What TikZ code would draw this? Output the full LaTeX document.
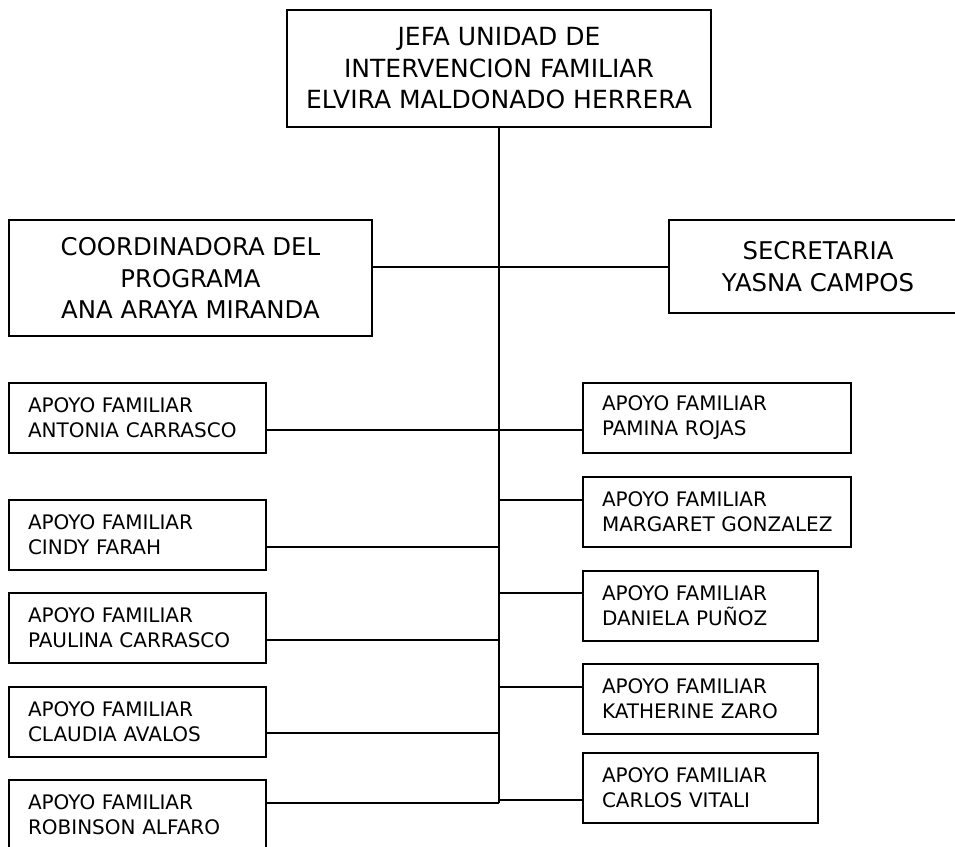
\documentclass[tikz,border=0pt]{standalone}
\usepackage{fontspec}
\setmainfont{DejaVu Sans}
\usepackage{tikz}

\begin{document}
\begin{tikzpicture}
        [x=1pt,y=-1pt,line width=1.5pt,every node/.style={draw,rectangle,line width=1.5pt}]
        \useasboundingbox (0,0) rectangle (955,846);
        \tikzset{JefeStyle/.style =   {align          = center,
                                  font           = \fontsize{#1}{31.5}\selectfont},
                 ApoyoStyle/.style =  {align          = left,
                                  inner xsep     = 19pt,
                                  text width     = #1,
                                  minimum height = 70pt,
                                  font           = \fontsize{20}{25}\selectfont}}
        \node[JefeStyle=25,minimum width=424pt,minimum height=117pt] (Jefa) at (499,68.5)
            {JEFA UNIDAD DE\\INTERVENCION FAMILIAR\\ELVIRA MALDONADO HERRERA};
        \node[JefeStyle=24.4,minimum width=363pt,minimum height=116pt] (Coordinadora) at (190.5,278)
            {COORDINADORA DEL\\PROGRAMA\\ANA ARAYA MIRANDA};
        \node[JefeStyle=24.4,minimum width=298pt,minimum height=93pt] (Secretaria) at (818,266.5)
            {SECRETARIA\\YASNA CAMPOS};
        % apoyo familiar, lado izquierdo
        \node[ApoyoStyle=219pt] (Antonia) at (137.5,418) {APOYO FAMILIAR\\ANTONIA CARRASCO};
        \node[ApoyoStyle=219pt] (Cindy) at (137.5,535) {APOYO FAMILIAR\\CINDY FARAH};
        \node[ApoyoStyle=219pt] (Paulina) at (137.5,628) {APOYO FAMILIAR\\PAULINA CARRASCO};
        \node[ApoyoStyle=219pt] (Claudia) at (137.5,722) {APOYO FAMILIAR\\CLAUDIA AVALOS};
        \node[ApoyoStyle=219pt] (Robinson) at (137.5,815) {APOYO FAMILIAR\\ROBINSON ALFARO};
        % apoyo familiar, lado derecho
        \node[ApoyoStyle=230pt] (Pamina) at (717,418) {APOYO FAMILIAR\\PAMINA ROJAS};
        \node[ApoyoStyle=230pt] (Margaret) at (717,512) {APOYO FAMILIAR\\\mbox{MARGARET GONZALEZ}};
        \node[ApoyoStyle=197pt] (Daniela) at (700.5,606) {APOYO FAMILIAR\\DANIELA PUÑOZ};
        \node[ApoyoStyle=197pt] (Katherine) at (700.5,699) {APOYO FAMILIAR\\KATHERINE ZARO};
        \node[ApoyoStyle=197pt] (Carlos) at (700.5,788) {APOYO FAMILIAR\\CARLOS VITALI};
        % puntos sobre la linea central
        \coordinate (t0) at (499,267);
        \coordinate (t1) at (499,430);
        \coordinate (t2) at (499,500);
        \coordinate (t3) at (499,547);
        \coordinate (t4) at (499,593);
        \coordinate (t5) at (499,640);
        \coordinate (t6) at (499,687);
        \coordinate (t7) at (499,733);
        \coordinate (t8) at (499,800);
        \coordinate (t9) at (499,803);
        \draw (Jefa.south) -- (t9);
        \foreach \from/\to/\at in {Coordinadora/Secretaria/t0,Antonia/Pamina/t1}
            \draw (\from.east |- \at) -- (\to.west |- \at);
        \foreach \from/\at in {Cindy/t3,Paulina/t5,Claudia/t7,Robinson/t9}
            \draw (\from.east |- \at) -- (\at);
        \foreach \to/\at in {Margaret/t2,Daniela/t4,Katherine/t6,Carlos/t8}
            \draw (\at) -- (\to.west |- \at);
    \end{tikzpicture}
\end{document}
